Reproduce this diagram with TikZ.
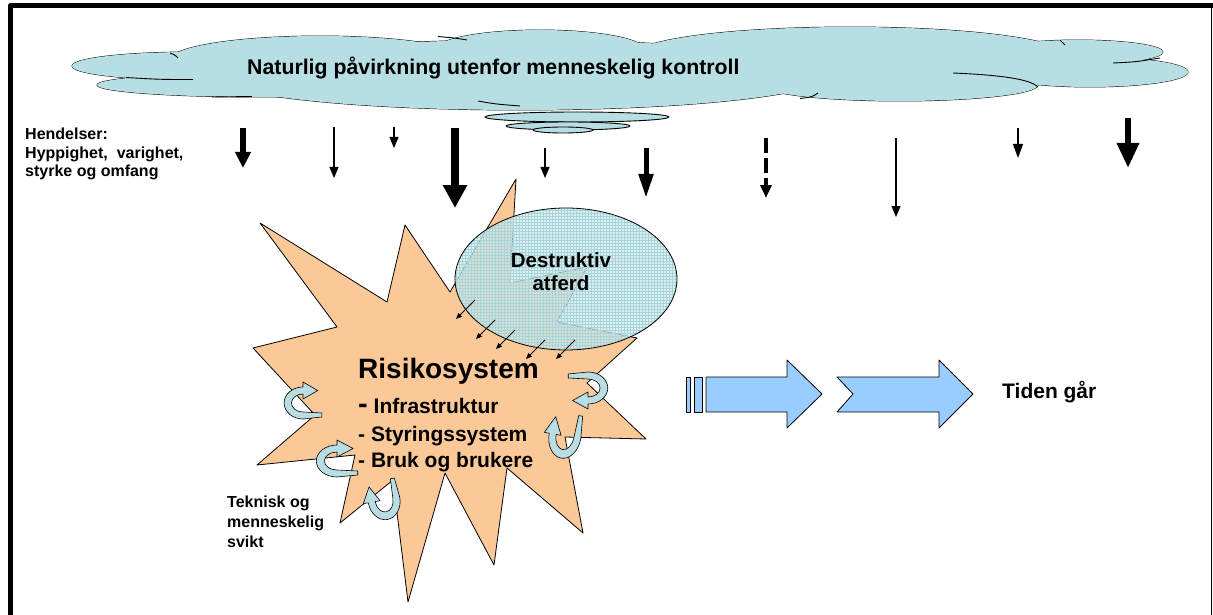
\documentclass[tikz,border=0pt]{standalone}
\usepackage{fontspec}
\setmainfont{Liberation Sans}
\usetikzlibrary{arrows.meta,patterns}
\definecolor{cloudc}{HTML}{B7DFE3}
\definecolor{peach}{HTML}{FBC898}
\definecolor{ellc}{HTML}{CDEAED}
\definecolor{gridc}{HTML}{A6D4DA}
\definecolor{blockc}{HTML}{99CCFF}
\definecolor{curlc}{HTML}{B8DEE4}
\newcommand{\fsz}[1]{\fontsize{#1}{#1}\selectfont}
\newcommand{\uturnarrow}[5]{% x, y, rotate, xscale, yscale
  \begin{scope}[shift={(#1,#2)}, rotate=#3, xscale=#4, yscale=#5]
    \draw[curlstyle] (18,14) -- (0,16)
      arc[start angle=90,end angle=270,x radius=18,y radius=16]
      -- (0,-21) -- (14,-12.5) -- (0,-4) -- (0,-9)
      arc[start angle=270,end angle=90,x radius=11,y radius=9]
      -- (18,10) -- cycle;
  \end{scope}}
\begin{document}
\begin{tikzpicture}[x=1pt,y=-1pt,line join=round,
  curlstyle/.style={fill=curlc,draw=black,line width=0.6pt},
  cloudline/.style={line width=0.9pt},
  thinarrow/.style={line width=1.3pt,-{Triangle[length=11pt,width=9pt]}},
  midarrow/.style={line width=5.5pt,-{Triangle[length=16pt,width=15pt]}},
  smallarrow/.style={line width=0.9pt,-{Triangle[length=6pt,width=5pt]}},
  lbl/.style={anchor=base west,font=\bfseries\fsz{16},inner sep=0pt},
  block/.style={fill=blockc,draw=black,line width=0.8pt}]
\useasboundingbox (0,0) rectangle (1213,615);
% frame
\draw[line width=5pt] (10.5,615) -- (10.5,5.5) -- (1213,5.5);
\draw[line width=1.5pt] (1211.5,5) -- (1211.5,615);
% cloud
\foreach \cx/\cy/\rx/\ry in {190/66/118/14, 260/85/163/12, 320/60/150/24, 520/75/310/35, 540/50/105/20, 850/55/215/28, 1078/52/85/12, 1090/72/98/15, 900/85/138/16}
  \draw[cloudline] (\cx,\cy) ellipse [x radius=\rx, y radius=\ry];
\foreach \cx/\cy/\rx/\ry in {190/66/118/14, 260/85/163/12, 320/60/150/24, 520/75/310/35, 540/50/105/20, 850/55/215/28, 1078/52/85/12, 1090/72/98/15, 900/85/138/16}
  \fill[cloudc] (\cx,\cy) ellipse [x radius=\rx, y radius=\ry];
\draw[cloudline] (126,77.5) .. controls (160,79.5) .. (193,79.5);
\draw[cloudline] (170,53) .. controls (175,55) .. (178,58);
\draw[cloudline] (212,97) -- (252,96.5);
\draw[cloudline] (438,36.5) .. controls (455,38) .. (467,40);
\draw[cloudline] (478,101) .. controls (495,104) .. (520,106);
\draw[cloudline] (800,98.5) .. controls (812,97) .. (818,93);
\draw[cloudline] (953,73) .. controls (1000,75) and (1030,79) .. (1038,87);
\draw[cloudline] (1113,63) .. controls (1135,62) .. (1160,58);
\draw[cloudline] (1060,40) .. controls (1063,42) .. (1065,45);
\draw[cloudline,fill=cloudc] (577,117) ellipse [x radius=92, y radius=5];
\draw[cloudline,fill=cloudc] (568,126) ellipse [x radius=62, y radius=4];
\draw[cloudline,fill=cloudc] (563,130) ellipse [x radius=30, y radius=3];
\node[anchor=base west,font=\bfseries\fsz{21.3},inner sep=0pt] (cloudtxt) at (247,75) {Naturlig påvirkning utenfor menneskelig kontroll};
% left labels
\node[lbl] (hend1) at (25,140) {Hendelser:};
\node[lbl] (hend2) at (25,158) {Hyppighet,~ varighet,};
\node[lbl] (hend3) at (25,176) {styrke og omfang};
% rain arrows
\foreach \n/\x/\ya/\yb in {a1/243/128/168, a2/334/127/178, a3/394/127/148, a4/455/128/208, a5/545/148/178, a6/646/148/198, a7/766/138/198, a8/896/138/217, a9/1018/128/158, a10/1128/118/168}{
  \coordinate (\n s) at (\x,\ya);
  \coordinate (\n e) at (\x,\yb);}
\draw[midarrow] (a1s) -- (a1e);
\draw[thinarrow] (a2s) -- (a2e);
\draw[thinarrow] (a3s) -- (a3e);
\draw[line width=8.3pt,-{Triangle[length=23pt,width=23pt]}] (a4s) -- (a4e);
\draw[thinarrow] (a5s) -- (a5e);
\draw[line width=5pt,-{Triangle[length=24pt,width=14pt]}] (a6s) -- (a6e);
\draw[line width=4pt,dash pattern=on 15pt off 5pt,-{Triangle[length=13pt,width=11pt]}] (a7s) -- (a7e);
\draw[thinarrow] (a8s) -- (a8e);
\draw[line width=1.3pt,-{Triangle[length=14pt,width=10pt]}] (a9s) -- (a9e);
\draw[line width=6pt,-{Triangle[length=25pt,width=21pt]}] (a10s) -- (a10e);
% starburst
\draw[fill=peach,line width=0.8pt] (516,179) -- (510,283) -- (587,267) -- (557,322) -- (637,338) -- (587,383) -- (646,439) -- (565,437) -- (583,533) -- (507,468) -- (494,565) -- (445,473) -- (408,602) -- (393,480) -- (340,523) -- (355,455) -- (257,465) -- (315,415) -- (253,348) -- (337,327) -- (260,223) -- (387,302) -- (405,225) -- (450,292) -- cycle;
% ellipse
\fill[ellc,fill opacity=0.7] (566,279) ellipse [x radius=111, y radius=71];
\fill[pattern=grid,pattern color=gridc,fill opacity=0.22] (566,279) ellipse [x radius=111, y radius=71];
\draw[line width=0.8pt] (566,279) ellipse [x radius=111, y radius=71];
\node[anchor=base,font=\bfseries\fsz{20.5},inner sep=0pt] (destr1) at (561,267) {Destruktiv};
\node[anchor=base,font=\bfseries\fsz{20.5},inner sep=0pt] (destr2) at (561,290) {atferd};
% small arrows
\foreach \n/\xa/\ya/\xb/\yb in {s1/475/300/456/319, s2/495/320/476/339, s3/515/330/496/349, s4/545/340/526/359, s5/575/340/556/359}{
  \coordinate (\n s) at (\xa,\ya);
  \coordinate (\n e) at (\xb,\yb);
  \draw[smallarrow] (\n s) -- (\n e);}
% main text
\node[anchor=base west,font=\bfseries\fsz{28},inner sep=0pt] (risk) at (358,378) {Risikosystem};
\node[anchor=base west,font=\bfseries\fsz{21},inner sep=0pt] (infra) at (358,413) {{\fsz{29}-} Infrastruktur};
\node[anchor=base west,font=\bfseries\fsz{21},inner sep=0pt] (styr) at (358,441) {- Styringssystem};
\node[anchor=base west,font=\bfseries\fsz{21},inner sep=0pt] (bruk) at (358,467) {- Bruk og brukere};
% curls
\uturnarrow{303}{403}{0}{1.05}{1}
\uturnarrow{337}{461}{0}{1.15}{1}
\uturnarrow{384}{500}{100}{1.1}{1}
\uturnarrow{588}{388}{180}{1.1}{1}
\uturnarrow{565}{436}{80}{1.25}{1}
% teknisk
\node[lbl] (tek1) at (227,507) {Teknisk og};
\node[lbl] (tek2) at (227,527) {menneskelig};
\node[lbl] (tek3) at (227,547) {svikt};
% block arrows
\draw[block] (686,377) rectangle (690,412);
\draw[block] (694,377) rectangle (702,412);
\draw[block] (706,377) -- (787,377) -- (787,360) -- (822,394) -- (787,428) -- (787,412) -- (706,412) -- cycle;
\draw[block] (837,377) -- (939,377) -- (939,360) -- (973,394) -- (939,428) -- (939,412) -- (837,412) -- (853,394) -- cycle;
\node[anchor=base west,font=\bfseries\fsz{21},inner sep=0pt] (tiden) at (1002,398) {Tiden går};
\end{tikzpicture}
\end{document}
